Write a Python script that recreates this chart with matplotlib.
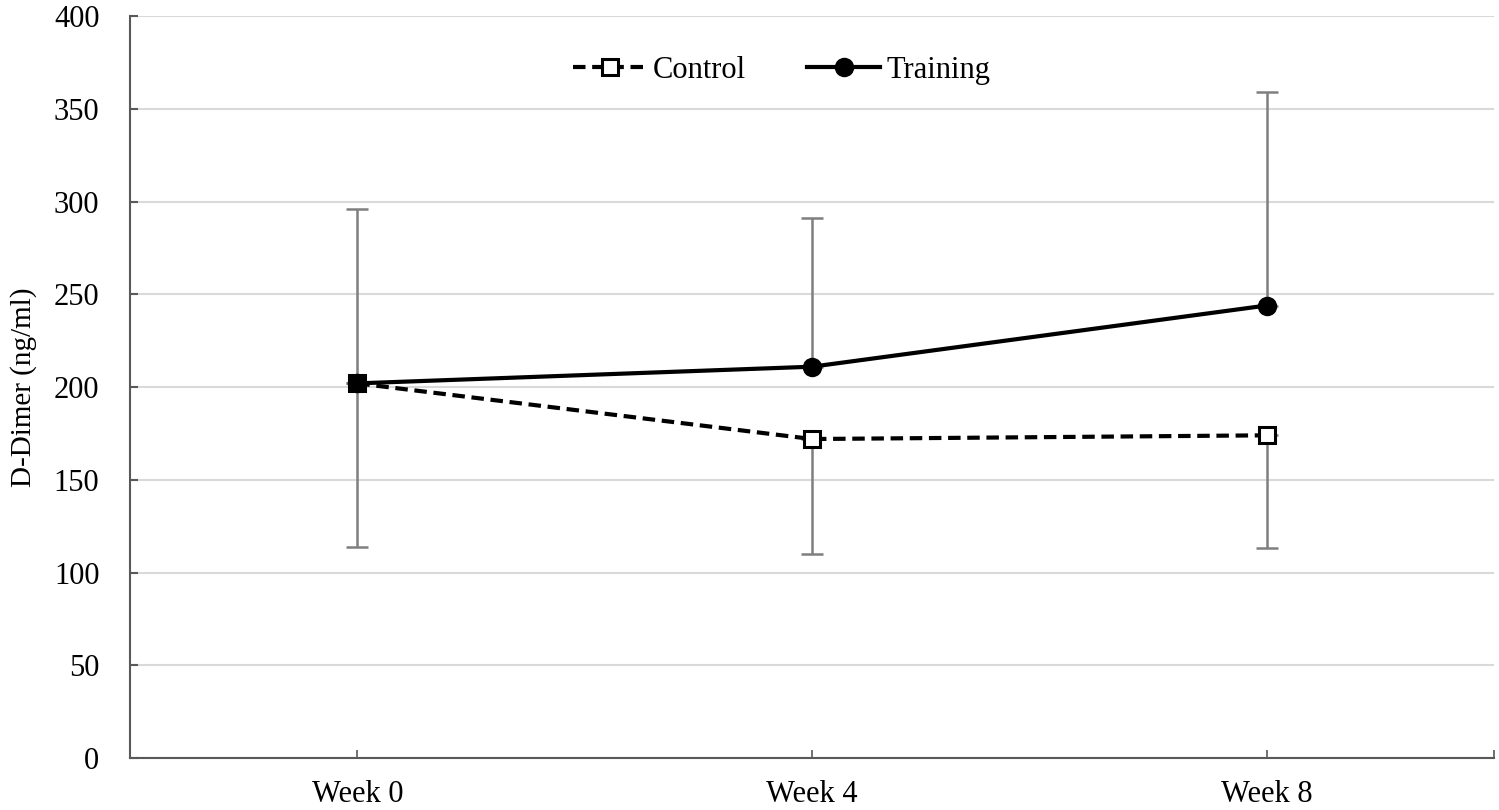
import matplotlib
matplotlib.use('Agg')
from matplotlib import pyplot as plt
import numpy as np

# Datos
semanas = ['Week 0', 'Week 4', 'Week 8']
control = [202, 172, 174]
training = [202, 211, 244]
# barras de error: la de abajo es del control, la de arriba del entrenamiento
control_err_abajo = [88, 62, 61]
training_err_arriba = [94, 80, 115]
yticks = [0, 50, 100, 150, 200, 250, 300, 350, 400]

plt.rcParams['font.family'] = ['Liberation Serif', 'DejaVu Serif']

fig = plt.figure(figsize=(14.99, 8.10), dpi=100)
ax = fig.add_axes([0.0867, 0.0642, 0.91, 0.9158])

x = np.arange(len(semanas))

# barras de error
ax.errorbar(x, control, yerr=[control_err_abajo, [0]*3], fmt='none',
            ecolor='#7f7f7f', elinewidth=1.8, capsize=8, capthick=1.8, zorder=2)
ax.errorbar(x, training, yerr=[[0]*3, training_err_arriba], fmt='none',
            ecolor='#7f7f7f', elinewidth=1.8, capsize=8, capthick=1.8, zorder=2)

# lineas
ax.plot(x, control, linestyle=(0, (3, 1.6)), color='black', linewidth=3,
        marker='s', markersize=12, markerfacecolor='white',
        markeredgecolor='black', markeredgewidth=2.2, label='Control', zorder=3)
ax.plot(x, training, linestyle='-', color='black', linewidth=3,
        marker='o', markersize=13, markerfacecolor='black',
        markeredgecolor='black', label='Training', zorder=4)

ax.set_xlim(-0.5, 2.5)
ax.set_ylim(0, 400)
ax.set_yticks(yticks)
ax.set_xticks(x)
ax.set_xticklabels(semanas)
ax.set_xticks([2.5], minor=True)

ax.yaxis.grid(True, color='#d9d9d9', linewidth=1.5)
ax.set_axisbelow(True)

for s in ['top', 'right']:
    ax.spines[s].set_visible(False)
for s in ['left', 'bottom']:
    ax.spines[s].set_color('#595959')
    ax.spines[s].set_linewidth(1.5)

ax.tick_params(axis='y', direction='in', length=6, width=1.5, color='#595959',
               labelsize=22, pad=22)
ax.tick_params(axis='x', which='both', direction='in', length=6, width=1.2,
               color='#595959', labelsize=22, pad=16)

ax.set_ylabel('D-Dimer (ng/ml)', fontsize=21, labelpad=12)

ax.legend(loc='center', bbox_to_anchor=(0.478, 0.927), ncol=2, frameon=False,
          fontsize=22, handlelength=2.4, columnspacing=2.0, handletextpad=0.2)

plt.savefig('out.png', dpi=100)
